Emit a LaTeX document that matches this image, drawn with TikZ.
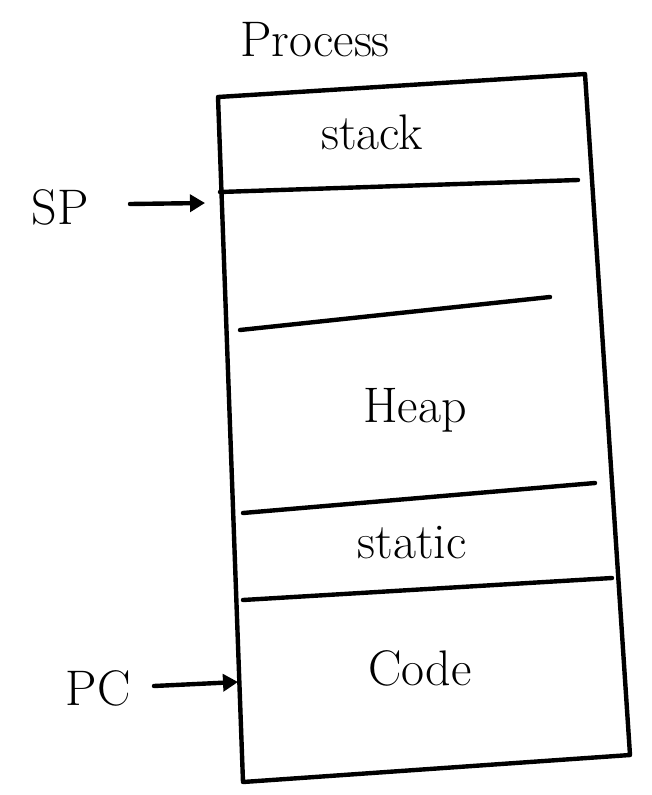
\documentclass[tikz,border=0pt]{standalone}
\usetikzlibrary{arrows.meta}
\begin{document}
\begin{tikzpicture}[x=1pt,y=-1pt,
  edge/.style={line width=4.4pt,line cap=round,line join=round},
  lbl/.style={font=\fontsize{50}{52}\selectfont,inner sep=0pt},
  ptr/.style={line width=4.4pt,line cap=round,-{Triangle[length=15pt,width=17pt]}}]
\useasboundingbox (0,0) rectangle (651,795);
% corners
\coordinate (tl) at (218,97);
\coordinate (tr) at (585,74);
\coordinate (br) at (630,755);
\coordinate (bl) at (243,782);
\draw[edge] (tl) -- (bl) -- (br) -- (tr) -- cycle;
% dividers
\coordinate (d1l) at (220,192); \coordinate (d1r) at (578,180);
\coordinate (d2l) at (240,330); \coordinate (d2r) at (550,297);
\coordinate (d3l) at (243,513); \coordinate (d3r) at (595,483);
\coordinate (d4l) at (243,600); \coordinate (d4r) at (612,578);
\draw[edge] (d1l) -- (d1r);
\draw[edge] (d2l) -- (d2r);
\draw[edge] (d3l) -- (d3r);
\draw[edge] (d4l) -- (d4r);
% labels
\node[lbl] (proc) at (315,40) {Process};
\node[lbl] (stack) at (372,132) {stack};
\node[lbl] (heap) at (415,410) {Heap};
\node[lbl] (static) at (412,543) {static};
\node[lbl] (code) at (420,668) {Code};
\node[lbl] (sp) at (60,207) {SP};
\node[lbl] (pc) at (98,688) {PC};
% pointers
\coordinate (sps) at (130,204);
\coordinate (spt) at (205,203);
\coordinate (pcs) at (154,686);
\coordinate (pct) at (238,682);
\draw[ptr] (sps) -- (spt);
\draw[ptr] (pcs) -- (pct);
\end{tikzpicture}
\end{document}
